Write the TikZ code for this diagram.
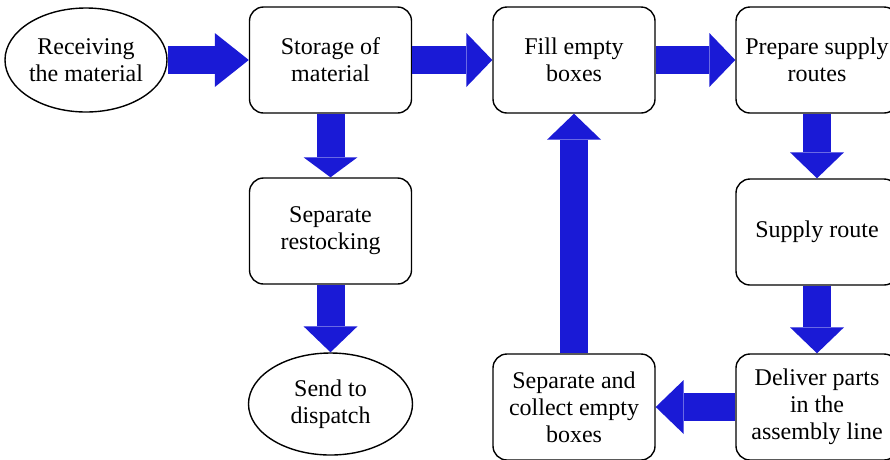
\documentclass[tikz,border=0pt]{standalone}
\usepackage{fontspec}
\setmainfont{Liberation Serif}
\usetikzlibrary{shapes.geometric,arrows.meta}
\definecolor{arrowblue}{RGB}{26,26,214}
\begin{document}
\begin{tikzpicture}[x=1pt,y=-1pt,
  txt/.style={align=center,inner sep=0pt,font=\fontsize{24}{27}\selectfont},
  box/.style={txt,draw=black,line width=1.4pt,rounded corners=14pt,minimum width=162pt,minimum height=106pt},
  oval/.style={txt,draw=black,line width=1.4pt,ellipse,minimum width=162pt,minimum height=104pt},
  fat/.style={draw=arrowblue,line width=28pt,-{Triangle[length=#1,width=54pt,line width=0pt]}},
  fat/.default=26pt,
]
\clip (0,0) rectangle (890,459);
\node[oval] (rec) at (86,60) {Receiving\\the material};
\node[box] (sto) at (330.5,60) {Storage of\\material};
\node[box] (fill) at (574,60) {Fill empty\\boxes};
\node[box] (prep) at (817,60) {Prepare supply\\routes};
\node[box] (srs) at (330.5,231) {Separate\\restocking};
\node[box] (route) at (817,232) {Supply route};
\node[oval,minimum width=164pt,minimum height=102pt] (disp) at (330.5,404) {Send to\\dispatch};
\node[box] (col) at (574,407) {Separate and\\collect empty\\boxes};
\node[box] (del) at (817,407) {Deliver parts\\in the\\assembly line};
\draw[fat=34pt] (rec) -- (sto);
\draw[fat] (sto) -- (fill);
\draw[fat] (fill) -- (prep);
\draw[fat=20pt] (sto) -- (srs);
\draw[fat] (srs) -- (disp);
\draw[fat] (prep) -- (route);
\draw[fat] (route) -- (del);
\draw[fat=28pt] (del) -- (col);
\draw[fat] (col) -- (fill);
\end{tikzpicture}
\end{document}
